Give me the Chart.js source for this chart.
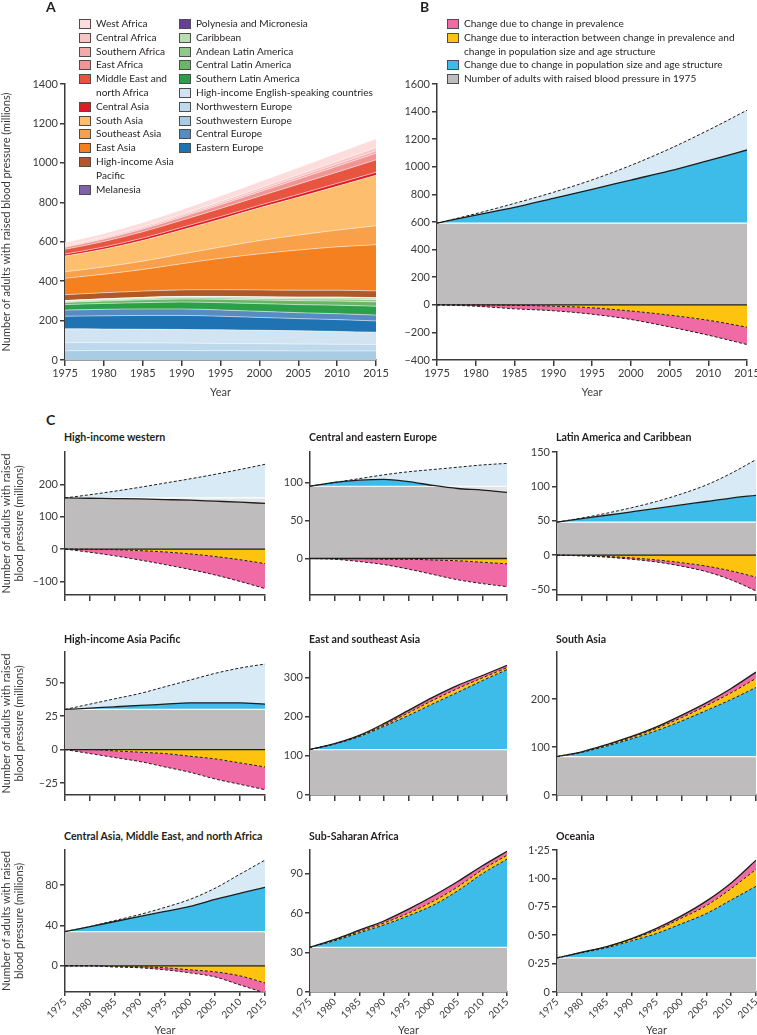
<!DOCTYPE html>
<html>
<head>
<meta charset="utf-8">
<title>Adults with raised blood pressure</title>
<script src="https://cdn.jsdelivr.net/npm/chart.js@4.4.1/dist/chart.umd.min.js"></script>
<style>
  body { margin: 0; width: 757px; height: 1035px; position: relative; overflow: hidden; background: #fff;
         font-family: Lato, "DejaVu Sans", sans-serif; color: #231f20; }
  canvas { position: absolute; }
  .tag { position: absolute; font-size: 14px; font-weight: bold; z-index: 2; }
  .ttl { position: absolute; font-size: 10.6px; font-weight: bold; white-space: nowrap; line-height: 14px; z-index: 2; }
  .legend { position: absolute; font-size: 10.1px; line-height: 13.8px; z-index: 2; white-space: pre; }
  .legend .item { position: relative; padding-left: 17px; }
  .legend .sw { position: absolute; left: 0; top: 2px; width: 10px; height: 8px; border: 1px solid #4d4d4d; }
</style>
</head>
<body>
<div class="tag" style="left:46px;top:-2px">A</div>
<div class="tag" style="left:420px;top:-2px">B</div>
<div class="tag" style="left:46px;top:411px">C</div>

<div id="legA1" class="legend" style="left:79px;top:17px"></div>
<div id="legA2" class="legend" style="left:179px;top:17px"></div>
<div id="legB" class="legend" style="left:447px;top:17px"></div>

<script>
// x positions shared by every panel
const years = [1975, 1980, 1985, 1990, 1995, 2000, 2005, 2010, 2015];

// ---- panel A: regions, bottom of the stack first (millions) ----
const swEurope      = [47, 48, 48, 48, 47, 47, 46, 46, 46];
const nwEurope      = [41, 40, 39, 38, 37, 36, 35, 34, 33];
const hiEnglish     = [70, 69, 69, 69, 69, 68, 67, 65, 62];
const eEurope       = [64, 67, 70, 71, 69, 65, 62, 60, 57];
const cEurope       = [31, 33, 33, 33, 32, 31, 30, 30, 30];
const sLatAm        = [28, 30, 32, 35, 37, 39, 41, 43, 45];
const cLatAm        = [11, 12, 14, 15, 17, 18, 20, 21, 22];
const andean        = [4, 5, 6, 7, 7, 8, 9, 10, 11];
const caribbean     = [5, 6, 6, 6, 7, 8, 8, 9, 9];
const polynesia     = [0.04, 0.04, 0.05, 0.05, 0.06, 0.07, 0.08, 0.09, 0.1];
const melanesia     = [0.26, 0.3, 0.35, 0.42, 0.5, 0.6, 0.72, 0.87, 1.06];
const hiAsiaPacific = [30, 31, 32, 33, 34, 35, 35, 35, 34];
const eastAsia      = [83, 94, 110, 133, 159, 183, 204, 220, 235];
const seAsia        = [33, 37, 42, 49, 57, 67, 76, 85, 96];
const southAsia     = [80, 90, 105, 122, 142, 166, 192, 222, 256];
const cAsia         = [10, 11, 12, 13, 13, 13, 14, 15, 15];
const mena          = [24, 28, 32, 36, 41, 46, 52, 57, 63];
const eAfrica       = [10, 12, 14, 16, 19, 22, 26, 30, 34];
const sAfrica       = [4, 5, 6, 7, 8, 9, 10, 11, 12];
const cAfrica       = [5, 6, 7, 8, 9, 11, 12, 14, 16];
const wAfrica       = [15, 17, 20, 23, 27, 31, 36, 41, 45];

const bandsA = [
  ['Southwestern Europe', swEurope, '#a8cce4'],
  ['Northwestern Europe', nwEurope, '#bed8ec'],
  ['High-income English-speaking countries', hiEnglish, '#d2e4f1'],
  ['Eastern Europe', eEurope, '#1f73b2'],
  ['Central Europe', cEurope, '#568bc4'],
  ['Southern Latin America', sLatAm, '#2ca048'],
  ['Central Latin America', cLatAm, '#69b669'],
  ['Andean Latin America', andean, '#91c88c'],
  ['Caribbean', caribbean, '#b8ddb0'],
  ['Polynesia and Micronesia', polynesia, '#6a3d9a'],
  ['Melanesia', melanesia, '#8060a8'],
  ['High-income Asia Pacific', hiAsiaPacific, '#b05828'],
  ['East Asia', eastAsia, '#f48020'],
  ['Southeast Asia', seAsia, '#f9a04b'],
  ['South Asia', southAsia, '#fdbe6e'],
  ['Central Asia', cAsia, '#e21a25'],
  ['Middle East and north Africa', mena, '#e75440'],
  ['East Africa', eAfrica, '#f19494'],
  ['Southern Africa', sAfrica, '#f5aaaa'],
  ['Central Africa', cAfrica, '#f9c4c4'],
  ['West Africa', wAfrica, '#fcdcdc']
];
const legendA1 = ['West Africa', 'Central Africa', 'Southern Africa', 'East Africa', 'Middle East and\nnorth Africa',
  'Central Asia', 'South Asia', 'Southeast Asia', 'East Asia', 'High-income Asia\nPacific', 'Melanesia'];
const legendA2 = ['Polynesia and Micronesia', 'Caribbean', 'Andean Latin America', 'Central Latin America',
  'Southern Latin America', 'High-income English-speaking countries', 'Northwestern Europe', 'Southwestern Europe',
  'Central Europe', 'Eastern Europe'];
const ticksA = [0, 200, 400, 600, 800, 1000, 1200, 1400];

// ---- panel B: global decomposition ----
const globalBase   = 592;
const globalTop    = [592, 660, 735, 815, 905, 1010, 1130, 1265, 1410];
const globalTotal  = [592, 650, 706, 772, 837, 904, 970, 1045, 1122];
const globalInter  = [0, -1, -4, -10, -22, -45, -75, -112, -162];
const globalBottom = [0, -10, -29, -43, -68, -106, -160, -220, -288];
const ticksB = [-400, -200, 0, 200, 400, 600, 800, 1000, 1200, 1400, 1600];
const legendB = ['Change due to change in prevalence',
  'Change due to interaction between change in prevalence and\nchange in population size and age structure',
  'Change due to change in population size and age structure',
  'Number of adults with raised blood pressure in 1975'];

// ---- panel C: regional decompositions ----
const hiwBase = 158;
const hiwTop = [158, 168, 179, 191, 204, 217, 231, 246, 262];
const hiwTotal = [158, 157, 156, 155, 153, 151, 148, 145, 141];
const hiwInter = [0, -1, -2, -5, -9, -15, -23, -33, -45];
const hiwBottom = [0, -10, -21, -34, -48, -63, -80, -100, -122];

const ceeBase = 95;
const ceeTop = [95, 100, 105, 110, 114, 117, 120, 123, 125];
const ceeTotal = [95, 100, 103, 104, 101, 96, 92, 90, 87];
const ceeInter = [0, 0, 0, -1, -1, -2, -3, -5, -7];
const ceeBottom = [0, -1, -4, -8, -14, -21, -28, -33, -37];

const latBase = 48;
const latTop = [48, 54, 61, 69, 78, 89, 102, 119, 139];
const latTotal = [48, 53, 58, 63, 68, 73, 78, 83, 87];
const latInter = [0, -1, -2, -4, -7, -11, -16, -23, -32];
const latBottom = [0, -1, -3, -6, -10, -16, -24, -36, -52];

const hapBase = 30;
const hapTop = [30, 34, 38, 42, 47, 52, 57, 61, 64];
const hapTotal = [30, 31, 32, 33, 34, 35, 35, 35, 34];
const hapInter = [0, 0, -1, -2, -3, -5, -7, -10, -13];
const hapBottom = [0, -3, -6, -9, -13, -17, -22, -26, -30];

const esaBase = 116;
const esaPop = [116, 130, 149, 175, 203, 233, 262, 292, 320];
const esaInter = [116, 131, 151, 178, 210, 242, 272, 299, 325];
const esaTotal = [116, 131, 152, 182, 216, 250, 280, 305, 331];

const saBase = 80;
const saPop = [80, 89, 102, 117, 134, 154, 176, 199, 224];
const saInter = [80, 90, 104, 120, 139, 161, 186, 213, 243];
const saTotal = [80, 90, 105, 122, 142, 166, 192, 222, 256];

const cmnBase = 34;
const cmnTop = [34, 39, 45, 51, 58, 66, 77, 91, 105];
const cmnTotal = [34, 39, 44, 49, 54, 59, 66, 72, 78];
const cmnInter = [0, 0, -1, -1, -2, -4, -6, -10, -17];
const cmnBottom = [0, 0, -1, -2, -4, -7, -11, -19, -27];

const ssaBase = 34;
const ssaPop = [34, 39, 45, 51, 58, 66, 77, 90, 101];
const ssaInter = [34, 39.5, 46, 52.5, 60, 69, 80, 93, 104];
const ssaTotal = [34, 40, 47, 54, 63, 73, 84, 96, 107];

const ocBase = 0.30;
const ocPop = [0.30, 0.345, 0.39, 0.45, 0.515, 0.60, 0.69, 0.81, 0.93];
const ocInter = [0.30, 0.348, 0.398, 0.465, 0.545, 0.65, 0.76, 0.91, 1.08];
const ocTotal = [0.30, 0.35, 0.40, 0.47, 0.56, 0.67, 0.80, 0.96, 1.16];

// styling
const INK = '#3b3b3b';
const LINE = '#1d1d1b';
const FONT = { family: 'Lato, "DejaVu Sans", sans-serif', size: 11 };
const SMALL = { family: 'Lato, "DejaVu Sans", sans-serif', size: 10 };
const GRAY = '#bebcbd', PALE_GRAY = '#e4e4e4', BLUE = '#3dbbe9', PALE_BLUE = '#d8eaf5', YELLOW = '#fec30f', PINK = '#f06ba6';
const NONE = 'rgba(0,0,0,0)';
const DASH = { borderColor: LINE, borderWidth: 1, borderDash: [3, 2] };

function minus(v) { return v < 0 ? '\u2013' + Math.abs(v) : String(v); }

function scales(o) {
  return {
    x: {
      type: 'linear', min: 1975, max: 2015,
      afterBuildTicks: s => { s.ticks = years.map(v => ({ value: v })); },
      afterFit: s => { s.height = o.xh; s.paddingLeft = 0; s.paddingRight = 0; },
      border: { color: INK, width: 1.5 },
      grid: { drawOnChartArea: false, tickLength: o.rot ? 4 : 6, color: INK, lineWidth: 1.5 },
      ticks: { display: o.xLabels, color: INK, font: o.rot ? SMALL : FONT, padding: o.rot ? 0 : 1, autoSkip: false,
               minRotation: o.rot || 0, maxRotation: o.rot || 0, callback: v => String(v) },
      title: { display: o.xLabels, text: 'Year', color: INK, font: FONT,
               padding: { top: 0, bottom: o.rot ? -2 : 1 } }
    },
    y: {
      min: o.min, max: o.max, stacked: !!o.stacked,
      afterBuildTicks: s => { s.ticks = o.ticks.map(v => ({ value: v })); },
      afterFit: s => { s.width = o.yw; s.paddingTop = 0; s.paddingBottom = 0; },
      border: { color: INK, width: 1.5 },
      grid: { drawOnChartArea: false, tickLength: 5, color: INK, lineWidth: 1.5 },
      ticks: { color: INK, font: FONT, padding: 2, callback: o.fmt || minus },
      title: { display: !!o.title, text: o.title, color: INK, font: FONT, padding: 0 }
    }
  };
}

function draw(left, top, w, h, datasets, o) {
  const c = document.createElement('canvas');
  c.width = w; c.height = h;
  c.style.left = left + 'px'; c.style.top = top + 'px';
  document.body.appendChild(c);
  new Chart(c, {
    type: 'line',
    data: { labels: years, datasets },
    options: {
      responsive: false, animation: false,
      layout: { autoPadding: false, padding: { top: o.pt, right: o.pr, left: 0, bottom: 0 } },
      elements: { point: { radius: 0 }, line: { cubicInterpolationMode: 'monotone' } },
      plugins: { legend: { display: false }, tooltip: { enabled: false }, filler: { drawTime: 'beforeDatasetsDraw' } },
      scales: scales(o)
    }
  });
}

// prevalence falls: negative effects drawn below zero, cancelled growth drawn pale
function offsetSets(base, top, total, inter, bottom) {
  const flat = years.map(() => base);
  const zero = years.map(() => 0);
  const low = total.map(v => Math.min(v, base));
  const high = total.map(v => Math.max(v, base));
  return [
    { data: low, fill: { value: 0 }, backgroundColor: GRAY, borderColor: NONE, borderWidth: 0 },
    { data: flat, fill: 0, backgroundColor: PALE_GRAY, borderColor: '#fff', borderWidth: 1.2, order: 5 },
    { data: high, fill: 1, backgroundColor: BLUE, borderColor: NONE, borderWidth: 0 },
    Object.assign({ data: top, fill: 2, backgroundColor: PALE_BLUE }, DASH),
    { data: total, fill: false, borderColor: LINE, borderWidth: 1.3 },
    Object.assign({ data: inter, fill: { value: 0 }, backgroundColor: YELLOW }, DASH),
    Object.assign({ data: bottom, fill: 5, backgroundColor: PINK }, DASH),
    { data: zero, fill: false, borderColor: LINE, borderWidth: 1.3 }
  ];
}

// prevalence rises: all three effects stacked above the 1975 level
function stackSets(base, pop, inter, total) {
  const flat = years.map(() => base);
  return [
    { data: flat, fill: { value: 0 }, backgroundColor: GRAY, borderColor: '#fff', borderWidth: 1.2, order: 5 },
    Object.assign({ data: pop, fill: 0, backgroundColor: BLUE }, DASH),
    Object.assign({ data: inter, fill: 1, backgroundColor: YELLOW }, DASH),
    { data: total, fill: 2, backgroundColor: PINK, borderColor: LINE, borderWidth: 1.3 }
  ];
}

// legends
function legend(id, labels, colorOf) {
  const box = document.getElementById(id);
  labels.forEach(t => {
    const d = document.createElement('div');
    d.className = 'item';
    d.textContent = t;
    const s = document.createElement('span');
    s.className = 'sw';
    s.style.background = colorOf(t);
    d.appendChild(s);
    box.appendChild(d);
  });
}
const colorA = t => bandsA.find(b => b[0] === t.replace('\n', ' '))[2];
legend('legA1', legendA1, colorA);
legend('legA2', legendA2, colorA);
legend('legB', legendB, t => [PINK, YELLOW, BLUE, GRAY][legendB.indexOf(t)]);

// panel A
const setsA = bandsA.map((b, i) => ({
  label: b[0], data: b[1], fill: i === 0 ? 'origin' : '-1',
  backgroundColor: b[2], borderColor: 'rgba(255,255,255,0.85)', borderWidth: 0.6
}));
draw(0, 0, 392, 400, setsA, {
  pt: 84, pr: 16, xh: 40, yw: 65, xLabels: true, stacked: true, min: 0, max: 1400, ticks: ticksA,
  title: 'Number of adults with raised blood pressure (millions)'
});

// panel B
draw(380, 0, 377, 400, offsetSets(globalBase, globalTop, globalTotal, globalInter, globalBottom), {
  pt: 84, pr: 10, xh: 40, yw: 57, xLabels: true, min: -400, max: 1600, ticks: ticksB
});

// panel C grid
const cols = [{ left: 0, w: 270, yw: 65, pr: 5, tx: 64 }, { left: 268, w: 244, yw: 42, pr: 5, tx: 309 },
              { left: 515, w: 242, yw: 42, pr: 1, tx: 556 }];
const rows = [{ top: 445, h: 160, xh: 10, ty: 430 }, { top: 645, h: 160, xh: 10, ty: 632 },
              { top: 843, h: 192, xh: 43, ty: 829 }];
const ocFmt = v => v === 0 ? '0' : v.toFixed(2).replace('.', '\u00b7');
const panelsC = [
  ['High-income western', offsetSets(hiwBase, hiwTop, hiwTotal, hiwInter, hiwBottom), -142, 300, [-100, 0, 100, 200]],
  ['Central and eastern Europe', offsetSets(ceeBase, ceeTop, ceeTotal, ceeInter, ceeBottom), -48, 140, [0, 50, 100]],
  ['Latin America and Caribbean', offsetSets(latBase, latTop, latTotal, latInter, latBottom), -58, 150, [-50, 0, 50, 100, 150]],
  ['High-income Asia Pacific', offsetSets(hapBase, hapTop, hapTotal, hapInter, hapBottom), -34, 73, [-25, 0, 25, 50]],
  ['East and southeast Asia', stackSets(esaBase, esaPop, esaInter, esaTotal), 0, 365, [0, 100, 200, 300]],
  ['South Asia', stackSets(saBase, saPop, saInter, saTotal), 0, 298, [0, 100, 200]],
  ['Central Asia, Middle East, and north Africa', offsetSets(cmnBase, cmnTop, cmnTotal, cmnInter, cmnBottom), -26, 115, [0, 40, 80]],
  ['Sub-Saharan Africa', stackSets(ssaBase, ssaPop, ssaInter, ssaTotal), 0, 108, [0, 30, 60, 90]],
  ['Oceania', stackSets(ocBase, ocPop, ocInter, ocTotal), 0, 1.25, [0, 0.25, 0.5, 0.75, 1, 1.25], ocFmt]
];
panelsC.forEach((p, i) => {
  const c = cols[i % 3], r = rows[Math.floor(i / 3)];
  const last = r === rows[2];
  const t = document.createElement('div');
  t.className = 'ttl';
  t.style.left = c.tx + 'px'; t.style.top = r.ty + 'px';
  t.textContent = p[0];
  document.body.appendChild(t);
  draw(c.left, r.top, c.w, r.h, p[1], {
    pt: 7, pr: c.pr, xh: r.xh, yw: c.yw, xLabels: last, rot: last ? 45 : 0,
    min: p[2], max: p[3], ticks: p[4], fmt: p[5],
    title: i % 3 === 0 ? ['Number of adults with raised', 'blood pressure (millions)'] : null
  });
});
</script>
</body>
</html>
